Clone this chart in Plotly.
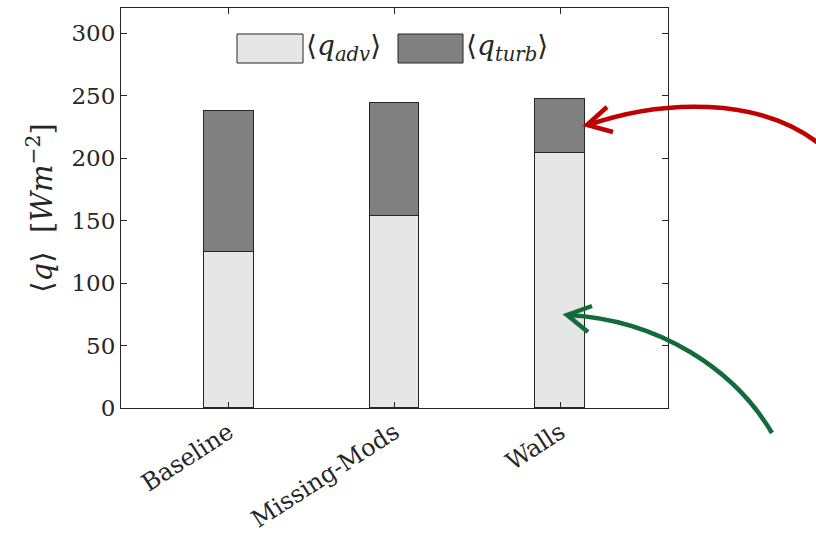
import plotly.graph_objects as go

# Mean heat-flux components per case (W m^-2)
cases = ["Baseline", "Missing-Mods", "Walls"]
q_adv = [125, 154, 204]
q_turb = [113, 90, 43]
y_ticks = [0, 50, 100, 150, 200, 250, 300]

FONT = "DejaVu Serif"
LIGHT = "#e6e6e6"
DARK = "#808080"
EDGE = "#262626"
TXT = "#262626"

W, H = 816, 537
L, R, T, B = 121, 668, 8, 408  # plot-area box in pixels


def px(x):
    return (x - L) / (R - L)


def py(y):
    return (B - y) / (B - T)


fig = go.Figure()
fig.add_trace(go.Bar(x=cases, y=q_adv, name="adv", width=0.3,
                     marker=dict(color=LIGHT, line=dict(color=EDGE, width=1)),
                     showlegend=False))
fig.add_trace(go.Bar(x=cases, y=q_turb, name="turb", width=0.3,
                     marker=dict(color=DARK, line=dict(color=EDGE, width=1)),
                     showlegend=False))

shapes = []
annotations = []

# Legend drawn as swatches with LaTeX-style labels
legend_items = [
    (237, 303, LIGHT, "⟨<i>q</i><sub><i>adv</i></sub>⟩"),
    (398, 463, DARK, "⟨<i>q</i><sub><i>turb</i></sub>⟩"),
]
for x0, x1, col, label in legend_items:
    shapes.append(dict(type="rect", xref="paper", yref="paper",
                       x0=px(x0), x1=px(x1), y0=py(63), y1=py(34),
                       fillcolor=col, line=dict(color=EDGE, width=1)))
    annotations.append(dict(xref="paper", yref="paper", x=px(x1 + 1), y=py(47),
                            xanchor="left", yanchor="middle", showarrow=False,
                            text=label, font=dict(family=FONT, size=28, color=TXT)))


def curve(p0, c1, c2, p1):
    pts = [p0, c1, c2, p1]
    s = [f"{px(x):.4f},{py(y):.4f}" for x, y in pts]
    return f"M {s[0]} C {s[1]} {s[2]} {s[3]}"


def head(a, tip, b):
    return (f"M {px(a[0]):.4f},{py(a[1]):.4f} L {px(tip[0]):.4f},{py(tip[1]):.4f} "
            f"L {px(b[0]):.4f},{py(b[1]):.4f}")


# Red arrow pointing at the turbulent part of the Walls bar
red = "#c00000"
shapes.append(dict(type="path", xref="paper", yref="paper", layer="above",
                   path=curve((822, 146), (760, 95), (660, 100), (588, 125)),
                   line=dict(color=red, width=4.5)))
shapes.append(dict(type="path", xref="paper", yref="paper", layer="above",
                   path=head((607, 107), (587, 125), (613, 132)),
                   line=dict(color=red, width=4.5)))

# Green arrow pointing at the advective part of the Walls bar
green = "#126b38"
shapes.append(dict(type="path", xref="paper", yref="paper", layer="above",
                   path=curve((772, 433), (735, 370), (660, 320), (568, 315)),
                   line=dict(color=green, width=4.5)))
shapes.append(dict(type="path", xref="paper", yref="paper", layer="above",
                   path=head((592, 306), (567, 315), (588, 332)),
                   line=dict(color=green, width=4.5)))

fig.update_layout(
    width=W, height=H,
    margin=dict(l=L, r=W - R, t=T, b=H - B),
    paper_bgcolor="white", plot_bgcolor="white",
    barmode="stack", bargap=0,
    font=dict(family=FONT, size=23, color=TXT),
    shapes=shapes, annotations=annotations,
    xaxis=dict(range=[-0.65, 2.65], showline=True, linecolor=EDGE, linewidth=1,
               mirror="ticks", ticks="inside", ticklen=6, tickcolor=EDGE,
               tickangle=-33, tickfont=dict(family=FONT, size=24, color=TXT),
               showgrid=False, zeroline=False, automargin=False),
    yaxis=dict(range=[0, 320], tickvals=y_ticks, showline=True, linecolor=EDGE,
               linewidth=1, mirror="ticks", ticks="inside", ticklen=6,
               tickcolor=EDGE, tickfont=dict(family=FONT, size=23, color=TXT),
               showgrid=False, zeroline=False, automargin=False,
               title=dict(text="⟨<i>q</i>⟩  [<i>Wm</i><sup>−2</sup>]",
                          font=dict(family=FONT, size=29, color=TXT), standoff=10)),
)

fig.write_html("out.html")
